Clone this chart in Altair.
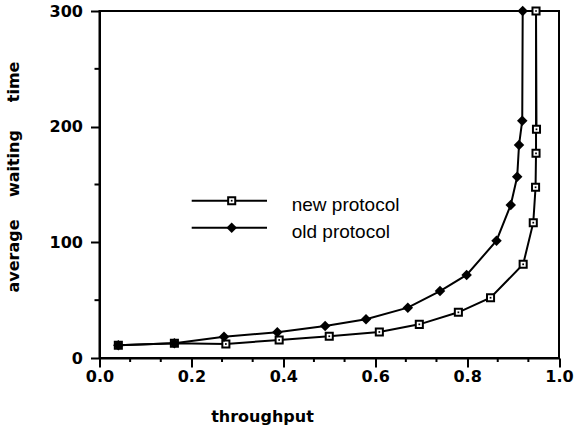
import altair as alt
import pandas as pd

# ---- data ----
series_names = ["new protocol", "old protocol"]

new_x = [0.041, 0.163, 0.275, 0.391, 0.500, 0.609, 0.696, 0.781, 0.851, 0.922, 0.944, 0.949, 0.950, 0.951, 0.950]
new_y = [11.0, 12.7, 12.1, 15.6, 18.8, 22.5, 29.1, 39.5, 52.1, 81.0, 117.0, 147.6, 177.0, 197.7, 300.0]

old_x = [0.041, 0.163, 0.271, 0.387, 0.491, 0.580, 0.671, 0.741, 0.799, 0.864, 0.895, 0.909, 0.913, 0.920, 0.921]
old_y = [11.0, 12.7, 18.4, 22.2, 27.7, 33.5, 43.5, 57.9, 71.8, 101.4, 132.3, 156.7, 184.1, 205.2, 300.0]

x_major = [0.0, 0.2, 0.4, 0.6, 0.8, 1.0]
x_minor = [i / 15 for i in range(16) if i % 3 != 0]
y_major = [0, 100, 200, 300]
y_minor = [50, 150, 250]

x_title = "throughput"
y_title = "average\u00a0\u00a0\u00a0\u00a0waiting\u00a0\u00a0\u00a0\u00a0\u00a0time"

new_df = pd.DataFrame({"x": new_x, "y": new_y})
old_df = pd.DataFrame({"x": old_x, "y": old_y})
xminor_df = pd.DataFrame({"x": x_minor})
yminor_df = pd.DataFrame({"y": y_minor})

FONT = "DejaVu Sans"
W, H = 459.5, 347

x_scale = alt.Scale(domain=[0, 1], nice=False, zero=False)
y_scale = alt.Scale(domain=[0, 300], nice=False)

x_axis = alt.Axis(
    values=x_major, format=".1f", title=x_title, grid=False,
    tickSize=9, tickWidth=2, tickColor="black",
    domainColor="black", domainWidth=2,
    labelFont=FONT, labelFontWeight="bold", labelFontSize=16, labelColor="black",
    labelPadding=1, labelFlush=False, labelOverlap=False,
    titleFont=FONT, titleFontWeight="bold", titleFontSize=16, titleColor="black",
    titleX=162.5, titleY=63, titleAlign="center", titleBaseline="alphabetic",
)
y_axis = alt.Axis(
    values=y_major, format="d", title=y_title, grid=False,
    tickSize=9, tickWidth=2, tickColor="black",
    domainColor="black", domainWidth=2,
    labelFont=FONT, labelFontWeight="bold", labelFontSize=16, labelColor="black",
    labelPadding=8, labelOverlap=False,
    titleFont=FONT, titleFontWeight="bold", titleFontSize=16, titleColor="black",
    titleX=-81.2, titleY=165.5, titleAlign="center", titleBaseline="alphabetic",
    titleAngle=270,
)

X = alt.X("x:Q", scale=x_scale, axis=x_axis)
Y = alt.Y("y:Q", scale=y_scale, axis=y_axis)

new_line = alt.Chart(new_df).mark_line(color="black", strokeWidth=2).encode(x=X, y=Y)
old_line = alt.Chart(old_df).mark_line(color="black", strokeWidth=2).encode(x=X, y=Y)
new_pts = alt.Chart(new_df).mark_point(
    shape="square", size=50, filled=False, fill="white", fillOpacity=1,
    stroke="black", strokeWidth=2, opacity=1,
).encode(x=X, y=Y)
new_dots = alt.Chart(new_df).mark_point(
    shape="square", size=3, filled=True, color="black", opacity=1,
).encode(x=X, y=Y)
old_pts = alt.Chart(old_df).mark_point(
    shape="diamond", size=110, filled=True, color="black", opacity=1,
).encode(x=X, y=Y)

x_minor_ticks = alt.Chart(xminor_df).mark_rule(color="black", strokeWidth=2).encode(
    x=X, y=alt.value(H), y2=alt.value(H + 4),
)
y_minor_ticks = alt.Chart(yminor_df).mark_rule(color="black", strokeWidth=2).encode(
    y=Y, x=alt.value(-5), x2=alt.value(0),
)

# ---- legend drawn inside the plot ----
legend_layers = []
row_y = [189.7, 216.7]
for i, name in enumerate(series_names):
    ldf = pd.DataFrame({"label": [name]})
    legend_layers.append(
        alt.Chart(ldf).mark_rule(color="black", strokeWidth=2).encode(
            x=alt.value(92.2), x2=alt.value(167.5), y=alt.value(row_y[i])
        )
    )
    if i == 0:
        legend_layers.append(
            alt.Chart(ldf).mark_point(
                shape="square", size=50, filled=False, fill="white", fillOpacity=1,
                stroke="black", strokeWidth=2, opacity=1,
            ).encode(x=alt.value(132.2), y=alt.value(row_y[i]))
        )
        legend_layers.append(
            alt.Chart(ldf).mark_point(shape="square", size=3, filled=True, color="black", opacity=1)
            .encode(x=alt.value(132.2), y=alt.value(row_y[i]))
        )
    else:
        legend_layers.append(
            alt.Chart(ldf).mark_point(shape="diamond", size=110, filled=True, color="black", opacity=1)
            .encode(x=alt.value(132.2), y=alt.value(row_y[i]))
        )
    legend_layers.append(
        alt.Chart(ldf).mark_text(
            align="left", baseline="alphabetic", font="Liberation Sans",
            fontSize=19, color="black",
        ).encode(x=alt.value(192.2), y=alt.value(row_y[i] + 10), text="label:N")
    )

chart = alt.layer(
    new_line, old_line, new_pts, new_dots, old_pts,
    x_minor_ticks, y_minor_ticks, *legend_layers,
).properties(
    width=W, height=H,
    autosize=alt.AutoSizeParams(type="none"),
    padding={"left": 99.5, "top": 11, "right": 19, "bottom": 80},
    background="white",
).configure_view(stroke="black", strokeWidth=2)

chart.save("out.html", embed_options={"renderer": "svg", "actions": False})
